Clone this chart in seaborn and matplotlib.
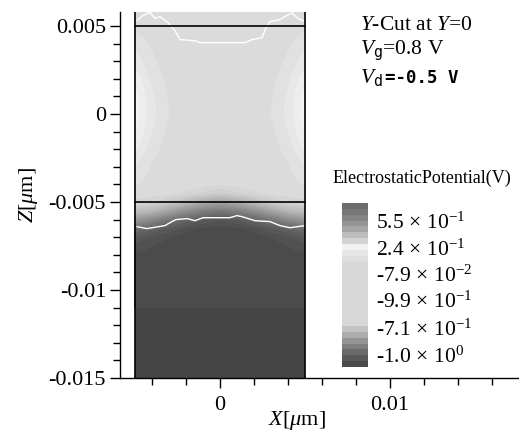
import numpy as np
import matplotlib
matplotlib.use("Agg")
import matplotlib.pyplot as plt
from matplotlib.ticker import MultipleLocator, FixedLocator
import seaborn as sns

# ---------------- data ----------------
x_grid = [-0.005, -0.0045, -0.004, -0.003, -0.002, -0.001, 0.0, 0.001, 0.002, 0.003, 0.004, 0.0045, 0.005]
z_grid = [0.0059, 0.005, 0.004, 0.003, 0.002, 0.001, 0.0, -0.001, -0.002, -0.003,
          -0.004, -0.0045, -0.005, -0.0055, -0.006, -0.0065, -0.007, -0.0075,
          -0.008, -0.0105, -0.011, -0.015]
# rendered gray level (0-255) of the potential map at each grid node
gray_field = [
    [218, 218, 218, 218, 218, 218, 218, 218, 218, 218, 218, 218, 218],
    [220, 220, 219, 218, 218, 218, 218, 218, 218, 218, 219, 220, 220],
    [226, 223, 221, 219, 218, 217, 217, 217, 218, 219, 221, 223, 226],
    [232, 227, 223, 219, 217, 217, 216, 217, 217, 219, 223, 227, 232],
    [238, 232, 226, 220, 217, 217, 216, 217, 217, 220, 226, 232, 238],
    [242, 236, 229, 221, 217, 217, 216, 217, 217, 221, 229, 236, 242],
    [243, 237, 230, 222, 217, 217, 216, 217, 217, 222, 230, 237, 243],
    [240, 234, 228, 220, 217, 217, 216, 217, 217, 220, 228, 234, 240],
    [235, 229, 224, 219, 217, 217, 217, 217, 217, 219, 224, 229, 235],
    [228, 224, 221, 219, 218, 218, 218, 218, 218, 219, 221, 224, 228],
    [222, 221, 220, 219, 219, 218, 216, 218, 219, 219, 220, 221, 222],
    [220, 219, 219, 218, 214, 208, 202, 208, 214, 218, 219, 219, 220],
    [214, 212, 210, 200, 185, 170, 162, 170, 185, 200, 210, 212, 214],
    [190, 185, 180, 160, 140, 125, 118, 125, 140, 160, 180, 185, 190],
    [150, 142, 135, 115, 100, 90, 85, 90, 100, 115, 135, 142, 150],
    [110, 104, 98, 88, 80, 76, 75, 76, 80, 88, 98, 104, 110],
    [90, 86, 82, 78, 75, 74, 74, 74, 75, 78, 82, 86, 90],
    [80, 79, 78, 76, 75, 74, 74, 74, 75, 76, 78, 79, 80],
    [77, 77, 77, 77, 77, 77, 77, 77, 77, 77, 77, 77, 77],
    [77, 77, 77, 77, 77, 77, 77, 77, 77, 77, 77, 77, 77],
    [72, 72, 72, 72, 72, 72, 72, 72, 72, 72, 72, 72, 72],
    [72, 72, 72, 72, 72, 72, 72, 72, 72, 72, 72, 72, 72],
]

# white contour lines
top_contour_x = [-0.00488, -0.00453, -0.00412, -0.00382, -0.00353, -0.00306, -0.00265,
                 -0.00235, -0.00147, -0.00118, 0.00147, 0.00188, 0.00247, 0.00271,
                 0.00294, 0.00353, 0.00394, 0.00424, 0.00459, 0.005]
top_contour_z = [0.00531, 0.0056, 0.00578, 0.00543, 0.00554, 0.0052, 0.00474,
                 0.00423, 0.00417, 0.00406, 0.00406, 0.00423, 0.00434, 0.00491,
                 0.00526, 0.00537, 0.0056, 0.00575, 0.00543, 0.00526]
bot_contour_x = [-0.00488, -0.0043, -0.00324, -0.00282, -0.00259, -0.00194, -0.00147,
                 -0.001, 0.00059, 0.001, 0.00129, 0.00206, 0.00294, 0.00353, 0.00412, 0.005]
bot_contour_z = [-0.0064, -0.00651, -0.00634, -0.00611, -0.006, -0.00594, -0.00606,
                 -0.00589, -0.00589, -0.00577, -0.00583, -0.00606, -0.00611, -0.00634,
                 -0.00646, -0.00634]

# black device borders
border_h_z = [0.005, -0.005]
border_v_x = [-0.005, 0.005]

# axis ticks
x_major = [0.0, 0.01]
x_major_labels = ["0", "0.01"]
x_minor = [-0.004, -0.002, 0.002, 0.004, 0.006, 0.008, 0.012, 0.014, 0.016]
z_major = [0.005, 0.0, -0.005, -0.01, -0.015]
z_major_labels = ["0.005", "0", "-0.005", "-0.01", "-0.015"]

# legend (colour bar) bands from top to bottom and its labels
cbar_grays = [108, 119, 133, 149, 166, 189, 212, 242, 230, 222,
              216, 216, 216, 216, 216, 216, 216, 216, 216, 216, 216,
              196, 173, 149, 127, 106, 88, 74]
cbar_labels = [r"5.5$\,\times\,$10$^{\mathrm{-1}}$", r"2.4$\,\times\,$10$^{\mathrm{-1}}$",
               r"-7.9$\,\times\,$10$^{\mathrm{-2}}$", r"-9.9$\,\times\,$10$^{\mathrm{-1}}$",
               r"-7.1$\,\times\,$10$^{\mathrm{-1}}$", r"-1.0$\,\times\,$10$^{\mathrm{0}}$"]
cbar_label_pos = [0.890, 0.726, 0.567, 0.409, 0.238, 0.073]

# ---------------- styling ----------------
sns.set_theme(style="ticks")
plt.rcParams["font.family"] = ["Liberation Serif", "DejaVu Serif"]
plt.rcParams["mathtext.fontset"] = "custom"
plt.rcParams["mathtext.rm"] = "Liberation Serif"
plt.rcParams["mathtext.it"] = "Liberation Serif:italic"
plt.rcParams["mathtext.tt"] = "DejaVu Sans Mono"
plt.rcParams["axes.unicode_minus"] = False

fig = plt.figure(figsize=(5.19, 4.32), dpi=100)
W, H = 519.0, 432.0
ax = fig.add_axes([120 / W, 54 / H, 399 / W, 366 / H])

X, Z = np.meshgrid(np.array(x_grid), np.array(z_grid))
G = np.array(gray_field, dtype=float)
ax.contourf(X, Z, G, levels=np.arange(66, 252, 6), cmap="gray", vmin=0, vmax=255)

ax.plot(top_contour_x, top_contour_z, color="white", lw=1.0)
ax.plot(bot_contour_x, bot_contour_z, color="white", lw=1.0)
for zz in border_h_z:
    ax.plot([border_v_x[0], border_v_x[1]], [zz, zz], color="black", lw=1.2)
for xx in border_v_x:
    ax.plot([xx, xx], [-0.015, 0.0058], color="black", lw=1.2)

ax.set_xlim(-0.00588, 0.01759)
ax.set_ylim(-0.015, 0.0058)
sns.despine(ax=ax)
for s in ["left", "bottom"]:
    ax.spines[s].set_linewidth(1.0)
    ax.spines[s].set_color("black")

ax.xaxis.set_major_locator(FixedLocator(x_major))
ax.set_xticklabels(x_major_labels)
ax.xaxis.set_minor_locator(FixedLocator(x_minor))
ax.yaxis.set_major_locator(FixedLocator(z_major))
ax.set_yticklabels(z_major_labels)
ax.yaxis.set_minor_locator(MultipleLocator(0.001))
ax.tick_params(which="major", direction="out", length=7, width=1, color="black",
               labelsize=16, labelcolor="black", pad=3)
ax.tick_params(axis="x", which="major", pad=6)
ax.tick_params(which="minor", direction="out", length=5, width=1, color="black")

ax.set_ylabel(r"$Z$[$\mu$m]", fontsize=16, color="black", labelpad=6)
ax.set_xlabel(r"$X$[$\mu$m]", fontsize=16, color="black", va="center")
ax.xaxis.set_label_coords((297 - 120) / 399, (378 - 420) / 366)

# annotations
fig.text(360 / W, 1 - 30 / H, r"$Y$-Cut at $Y$=0", fontsize=15.5, va="baseline", color="black")
fig.text(360 / W, 1 - 55 / H, r"$V_{\mathtt{g}}$=0.8 V", fontsize=15.5, va="baseline", color="black")
fig.text(360 / W, 1 - 83 / H, r"$V_{\mathtt{d}}$", fontsize=15.5, va="baseline", color="black")
fig.text(385 / W, 1 - 83 / H, "=-0.5 V", fontsize=12.5, va="baseline", color="black",
         family="DejaVu Sans Mono", fontweight="bold")

fig.text(333 / W, 1 - 178 / H, "ElectrostaticPotential(V)", fontsize=13, va="center",
         color="black")

# colour bar
cax = fig.add_axes([342 / W, 65 / H, 26 / W, 164 / H])
cb = np.array(cbar_grays, dtype=float).reshape(-1, 1)
cax.imshow(cb, cmap="gray", vmin=0, vmax=255, aspect="auto", extent=[0, 1, 0, 1],
           interpolation="nearest")
cax.set_xlim(0, 1)
cax.set_ylim(0, 1)
cax.set_xticks([])
cax.yaxis.tick_right()
cax.set_yticks(cbar_label_pos)
cax.set_yticklabels(cbar_labels)
cax.tick_params(axis="y", length=0, labelsize=15.5, pad=6, labelcolor="black")
for s in cax.spines.values():
    s.set_visible(False)

fig.savefig("out.png", dpi=100)
